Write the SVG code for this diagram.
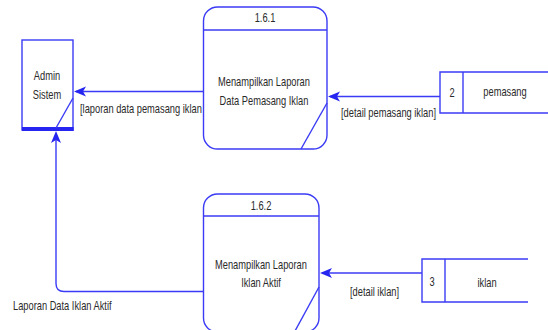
<svg xmlns="http://www.w3.org/2000/svg" width="548" height="330" viewBox="0 0 548 330">
  <style>
    .ln { fill: none; stroke: #3b3bf5; stroke-width: 1.4; }
    .bx { fill: #ffffff; stroke: #3b3bf5; stroke-width: 1.4; }
    .tx { font-family: "Liberation Sans", Arial, sans-serif; font-size: 12px; fill: #2a2a2a; }
    .c { text-anchor: middle; }
    .ah { fill: #2626f0; }
  </style>
  <rect width="548" height="330" fill="#ffffff"/>

  <!-- connectors; labels use a horizontally condensed face -->
  <g id="connectors">
    <path class="ln" d="M203,91.5 H76"/>
    <path class="ln" d="M440,96.5 H330"/>
    <path class="ln" d="M422,273 H322"/>
    <path class="ln" d="M203,291.5 H64 Q56,291.5 56,283.5 V134"/>
    <path class="ah" d="M74,91.5 L86,86.5 L83,91.5 L86,96.5 Z"/>
    <path class="ah" d="M328,96.5 L340,91.5 L337,96.5 L340,101.5 Z"/>
    <path class="ah" d="M320,273 L332,268 L329,273 L332,278 Z"/>
    <path class="ah" d="M56,131 L51,143 L56,140 L61,143 Z"/>
    <text class="tx" transform="translate(80,113) scale(0.775,1)">[laporan data pemasang iklan</text>
    <text class="tx" transform="translate(341,117) scale(0.775,1)">[detail pemasang iklan]</text>
    <text class="tx" transform="translate(350,296) scale(0.775,1)">[detail iklan]</text>
    <text class="tx" transform="translate(13,309.5) scale(0.775,1)">Laporan Data Iklan Aktif</text>
  </g>

  <!-- external entity -->
  <g id="admin-sistem">
    <rect class="bx" x="22" y="40" width="51" height="90"/>
    <rect x="22" y="127" width="51.7" height="4" fill="#2626f0"/>
    <line class="ln" x1="73" y1="98" x2="56" y2="128" stroke-width="1"/>
    <text class="tx c" transform="translate(47,79.5) scale(0.775,1)">Admin</text>
    <text class="tx c" transform="translate(47,99) scale(0.775,1)">Sistem</text>
  </g>

  <!-- process 1.6.1 -->
  <g id="proc-1-6-1">
    <rect class="bx" x="203.5" y="7" width="123.5" height="142" rx="14" ry="14"/>
    <line class="ln" x1="203.5" y1="30" x2="327" y2="30"/>
    <line class="ln" x1="327" y1="103" x2="301" y2="149" stroke-width="1"/>
    <text class="tx c" transform="translate(265,22) scale(0.775,1)">1.6.1</text>
    <text class="tx c" transform="translate(264,86) scale(0.775,1)">Menampilkan Laporan</text>
    <text class="tx c" transform="translate(264,104.5) scale(0.775,1)">Data Pemasang Iklan</text>
  </g>

  <!-- process 1.6.2 -->
  <g id="proc-1-6-2">
    <rect class="bx" x="203.5" y="194" width="115.5" height="138" rx="14" ry="14"/>
    <line class="ln" x1="203.5" y1="216" x2="319" y2="216"/>
    <line class="ln" x1="319" y1="287" x2="295" y2="331" stroke-width="1"/>
    <text class="tx c" transform="translate(261,209.5) scale(0.775,1)">1.6.2</text>
    <text class="tx c" transform="translate(261,268.5) scale(0.775,1)">Menampilkan Laporan</text>
    <text class="tx c" transform="translate(261,286.5) scale(0.775,1)">Iklan Aktif</text>
  </g>

  <!-- data store 2 -->
  <g id="store-pemasang">
    <path class="ln" d="M548,72 H440 V113 H548" stroke-width="1.6"/>
    <line class="ln" x1="463" y1="72" x2="463" y2="113"/>
    <text class="tx c" transform="translate(452,96.5) scale(0.775,1)">2</text>
    <text class="tx c" transform="translate(505,96) scale(0.775,1)">pemasang</text>
  </g>

  <!-- data store 3 -->
  <g id="store-iklan">
    <path class="ln" d="M528,259 H422 V302 H528" stroke-width="1.6"/>
    <line class="ln" x1="445" y1="259" x2="445" y2="302"/>
    <text class="tx c" transform="translate(432,286) scale(0.775,1)">3</text>
    <text class="tx c" transform="translate(487,286.5) scale(0.775,1)">iklan</text>
  </g>
</svg>
